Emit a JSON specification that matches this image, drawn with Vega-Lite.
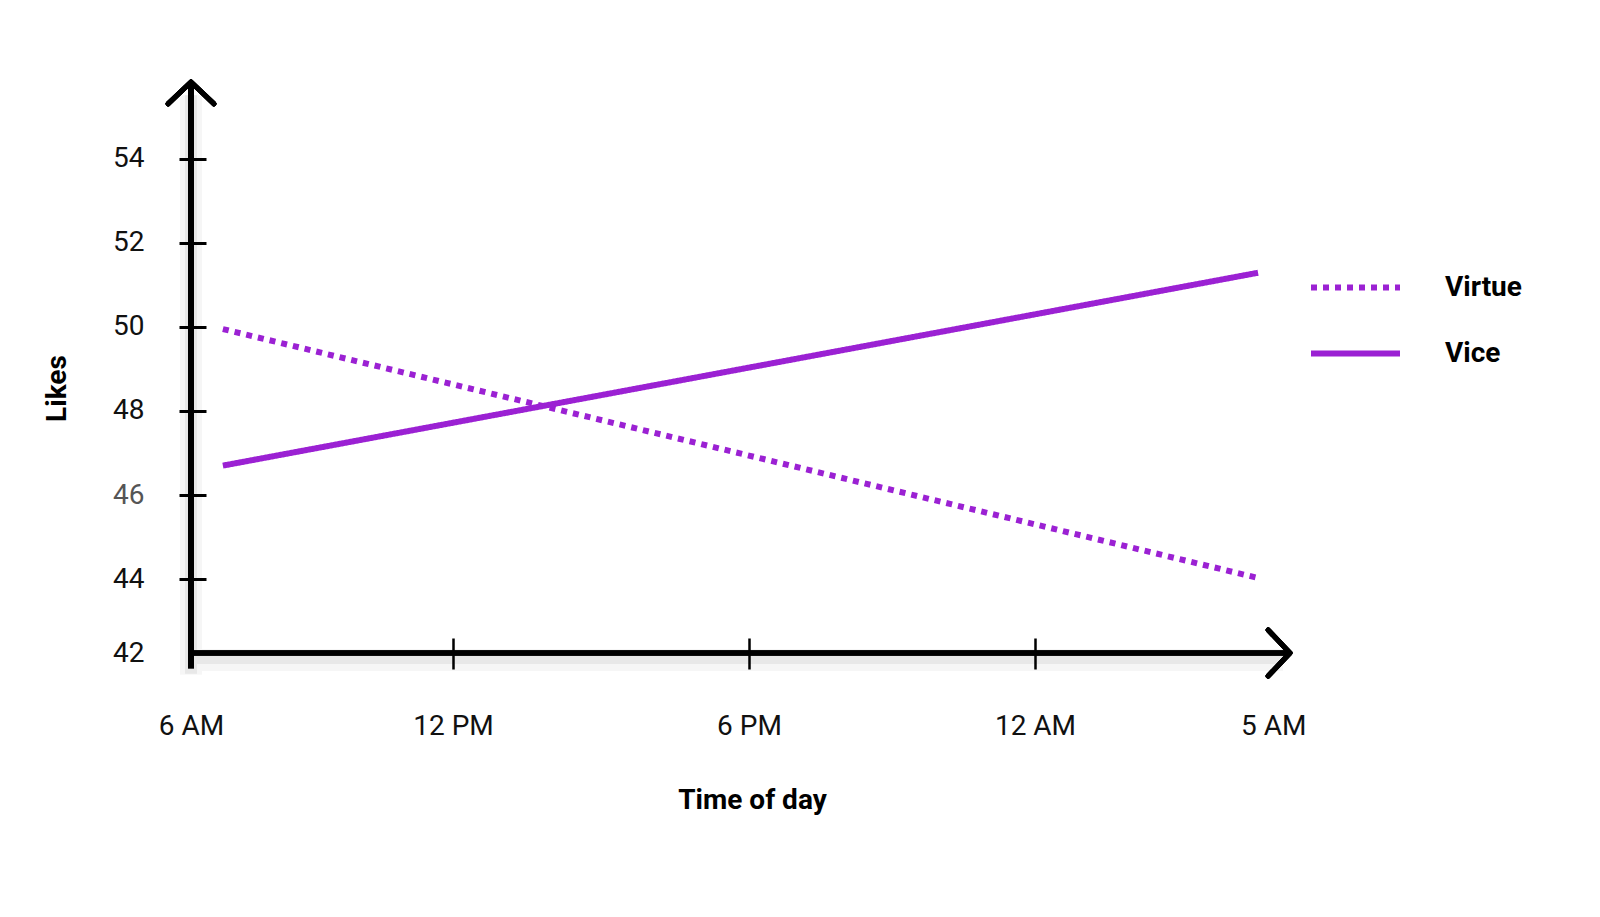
{
  "$schema": "https://vega.github.io/schema/vega-lite/v6.json",
  "width": 1099,
  "height": 571,
  "autosize": "none",
  "padding": {"left": 191, "top": 82, "right": 310, "bottom": 264},
  "background": "white",
  "config": {"view": {"stroke": null}, "font": "Roboto"},
  "data": {
    "values": [
      {"series": "Virtue", "hour": 0.73, "likes": 49.95},
      {"series": "Virtue", "hour": 22.7, "likes": 44.02},
      {"series": "Vice", "hour": 0.73, "likes": 46.7},
      {"series": "Vice", "hour": 22.68, "likes": 51.29}
    ]
  },
  "layer": [
    {
      "mark": {"type": "rule", "strokeWidth": 22, "color": "#f6f6f6", "yOffset": 6},
      "encoding": {
        "x": {"datum": 0, "type": "quantitative"},
        "y": {"datum": 41.88, "type": "quantitative"},
        "y2": {"datum": 55.5}
      }
    },
    {
      "mark": {"type": "rule", "strokeWidth": 22, "color": "#f6f6f6", "yOffset": 7},
      "encoding": {
        "x": {"datum": 0.1, "type": "quantitative"},
        "x2": {"datum": 23.2},
        "y": {"datum": 42.24, "type": "quantitative"}
      }
    },
    {
      "mark": {"type": "rule", "strokeWidth": 12, "color": "#e8e8e8", "yOffset": 5},
      "encoding": {
        "x": {"datum": 0, "type": "quantitative"},
        "y": {"datum": 41.88, "type": "quantitative"},
        "y2": {"datum": 55.5}
      }
    },
    {
      "mark": {"type": "rule", "strokeWidth": 12, "color": "#e8e8e8", "yOffset": 5},
      "encoding": {
        "x": {"datum": 0.1, "type": "quantitative"},
        "x2": {"datum": 23.2},
        "y": {"datum": 42.24, "type": "quantitative"}
      }
    },
    {
      "mark": {"type": "line", "strokeWidth": 6, "color": "#9b21d3", "strokeCap": "butt"},
      "encoding": {
        "x": {
          "field": "hour",
          "type": "quantitative",
          "scale": {"domain": [0, 6, 12, 18, 23.35], "range": [0, 262, 558, 844, 1099], "nice": false, "zero": false},
          "axis": {
            "title": "Time of day",
            "values": [0, 6, 12, 18, 23],
            "labelExpr": "datum.value == 0 ? '6 AM' : datum.value == 6 ? '12 PM' : datum.value == 12 ? '6 PM' : datum.value == 18 ? '12 AM' : '5 AM'",
            "zindex": 1,
            "domain": false,
            "grid": false,
            "offset": -15,
            "tickSize": 31,
            "tickWidth": 2.5,
            "tickColor": {"condition": {"test": "datum.value == 0 || datum.value == 23", "value": "transparent"}, "value": "black"},
            "labelPadding": 43,
            "labelFont": "Roboto",
            "labelFontSize": 28,
            "labelColor": "#111",
            "labelFlush": false,
            "labelOverlap": false,
            "labelBound": false,
            "titleFont": "Roboto",
            "titleFontSize": 28,
            "titleFontWeight": "bold",
            "titleColor": "black",
            "titleX": 561,
            "titleY": 162,
            "titleBaseline": "middle",
            "titleAlign": "center"
          }
        },
        "y": {
          "field": "likes",
          "type": "quantitative",
          "scale": {"domain": [42.24, 55.83], "nice": false, "zero": false},
          "axis": {
            "title": "Likes",
            "values": [42.24, 44, 46, 48, 50, 52, 54],
            "labelExpr": "datum.value < 43 ? '42' : datum.label",
            "zindex": 1,
            "domain": false,
            "grid": false,
            "offset": -15,
            "tickSize": 27,
            "tickWidth": 3,
            "tickColor": {"condition": {"test": "datum.value < 43", "value": "transparent"}, "value": "black"},
            "labelPadding": 35,
            "labelFont": "Roboto",
            "labelFontSize": 28,
            "labelColor": {"condition": {"test": "datum.value == 46", "value": "#555"}, "value": "#111"},
            "labelOverlap": false,
            "labelBound": false,
            "labelFlush": false,
            "titleFont": "Roboto",
            "titleFontSize": 28,
            "titleFontWeight": "bold",
            "titleColor": "black",
            "titleX": -149,
            "titleY": 306,
            "titleBaseline": "middle",
            "titleAlign": "center"
          }
        },
        "strokeDash": {
          "field": "series",
          "type": "nominal",
          "scale": {"domain": ["Virtue", "Vice"], "range": [[6, 6], [1, 0]]},
          "legend": {
            "title": null,
            "orient": "none",
            "legendX": 1117,
            "legendY": 158,
            "symbolType": "stroke",
            "symbolSize": 7921,
            "symbolStrokeWidth": 6,
            "symbolStrokeColor": "#9b21d3",
            "labelFont": "Roboto",
            "labelFontSize": 28,
            "labelFontWeight": "bold",
            "labelColor": "black",
            "labelOffset": 42,
            "labelLimit": 300,
            "rowPadding": 4,
            "padding": 0
          }
        }
      }
    },
    {
      "mark": {"type": "rule", "strokeWidth": 6, "color": "black"},
      "encoding": {
        "x": {"datum": 0, "type": "quantitative"},
        "y": {"datum": 41.88, "type": "quantitative"},
        "y2": {"datum": 55.83}
      }
    },
    {
      "mark": {"type": "rule", "strokeWidth": 5, "color": "black"},
      "encoding": {
        "x": {"datum": 0, "type": "quantitative"},
        "x2": {"datum": 23.35},
        "y": {"datum": 42.24, "type": "quantitative"}
      }
    },
    {
      "mark": {"type": "point", "shape": "M -1 0.95 L 0 0 L 1 0.95", "filled": false, "size": 2116, "stroke": "black", "strokeWidth": 5, "strokeCap": "round", "strokeJoin": "round", "opacity": 1},
      "encoding": {
        "x": {"datum": 0, "type": "quantitative"},
        "y": {"datum": 55.83, "type": "quantitative"}
      }
    },
    {
      "mark": {"type": "point", "shape": "M -0.95 -1 L 0 0 L -0.95 1", "filled": false, "size": 2116, "stroke": "black", "strokeWidth": 5, "strokeCap": "round", "strokeJoin": "round", "opacity": 1},
      "encoding": {
        "x": {"datum": 23.35, "type": "quantitative"},
        "y": {"datum": 42.24, "type": "quantitative"}
      }
    }
  ]
}
